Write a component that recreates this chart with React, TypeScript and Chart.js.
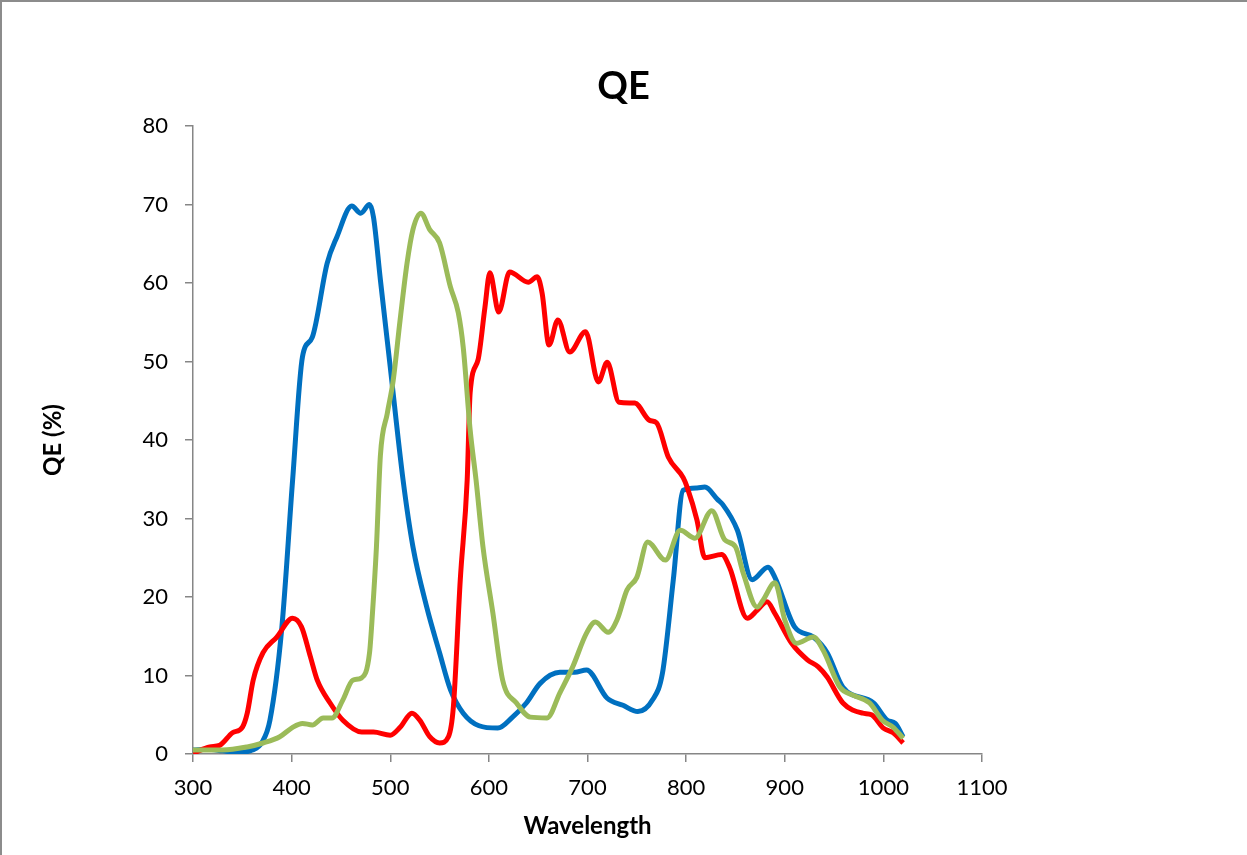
import React, { useEffect, useRef } from "react";
import { Chart, registerables } from "chart.js";

Chart.register(...registerables);

const blueX = [300, 315, 330, 345, 360, 370, 378, 390, 401, 411, 421, 436, 446, 461, 470, 479, 483, 490, 500, 513, 523, 537, 550, 561, 574, 590, 609, 624, 638, 652, 672, 687, 699, 720, 736, 751, 766, 776, 787, 797, 811, 819, 832, 837, 852, 867, 883, 890, 910, 929, 943, 959, 990, 1004, 1012, 1020];
const blueY = [0.5, 0.6, 0.4, 0.2, 0.5, 1.5, 4.3, 16, 34.9, 50.6, 53.1, 62.5, 65.9, 69.8, 68.9, 70, 68.4, 60.4, 49.3, 34.9, 26.4, 18.7, 12.9, 8.2, 5.2, 3.6, 3.3, 4.7, 6.5, 9.0, 10.4, 10.4, 10.7, 7.1, 6.2, 5.4, 6.9, 10.3, 22.2, 33.6, 33.9, 34.0, 32.4, 31.8, 28.5, 22.2, 23.8, 22.5, 16.2, 14.9, 12.9, 8.5, 6.5, 4.3, 3.9, 2.2];

const greenX = [300, 330, 355, 371, 388, 401, 411, 421, 432, 441, 452, 462, 471, 479, 482, 486, 490, 497, 503, 510, 517, 523, 531, 540, 550, 561, 569, 574, 581, 587, 594, 604, 614, 628, 642, 659, 672, 685, 699, 708, 721, 730, 740, 750, 761, 779, 794, 809, 826, 839, 850, 858, 872, 878, 890, 900, 912, 929, 939, 956, 969, 986, 999, 1010, 1020];
const greenY = [0.5, 0.5, 0.9, 1.4, 2.2, 3.4, 3.9, 3.7, 4.6, 4.6, 6.9, 9.4, 9.7, 12.9, 18, 26.4, 38, 43.4, 47.6, 55.3, 62.5, 66.8, 68.9, 66.8, 65.1, 59.5, 56.2, 51.8, 41.3, 34.9, 26.4, 18, 9.4, 6.5, 4.7, 4.6, 7.8, 11.1, 15.4, 16.8, 15.5, 17.1, 20.9, 22.5, 27, 24.7, 28.5, 27.5, 31, 27.3, 26.4, 23, 18.7, 19.6, 21.8, 17.1, 14.1, 14.9, 13.2, 8.5, 7.5, 6.5, 4.3, 3.4, 2];

const redX = [300, 317, 327, 340, 350, 355, 361, 371, 385, 401, 410, 419, 426, 439, 452, 471, 483, 500, 510, 522, 530, 540, 550, 559, 564, 571, 578, 581, 589, 596, 601, 610, 621, 640, 649, 654, 661, 670, 682, 698, 711, 720, 732, 748, 763, 770, 782, 797, 801, 811, 819, 836, 844, 862, 872, 882, 890, 907, 923, 934, 943, 959, 979, 988, 1000, 1010, 1020];
const redY = [0.1, 0.9, 1.1, 2.7, 3.4, 5.2, 9.4, 12.9, 14.9, 17.3, 16.2, 12.4, 9.4, 6.5, 4.3, 2.8, 2.8, 2.4, 3.4, 5.2, 4.3, 2.2, 1.4, 2.2, 6, 22.2, 34.9, 46, 50.2, 56.9, 61.3, 56.3, 61.4, 60.1, 60.8, 58.7, 52.1, 55.3, 51.2, 53.8, 47.4, 49.9, 44.8, 44.7, 42.5, 42.2, 37.8, 35.2, 34, 29.8, 25, 25.4, 23.8, 17.3, 18.3, 19.4, 17.9, 14.1, 12, 11.1, 9.8, 6.5, 5.2, 5.0, 3.3, 2.7, 1.4];

const FONT = "Lato, 'Liberation Sans', sans-serif";
const AXIS = "#868686";

function pts(xs: number[], ys: number[]) {
  return xs.map((x, i) => ({ x, y: ys[i] }));
}

export default function App() {
  const ref = useRef<HTMLCanvasElement | null>(null);
  useEffect(() => {
    if (!ref.current) return;
    const mk = (label: string, xs: number[], ys: number[], color: string) => ({
      label,
      data: pts(xs, ys),
      borderColor: color,
      backgroundColor: color,
      borderWidth: 5,
      pointRadius: 0,
      cubicInterpolationMode: "monotone" as const,
      fill: false,
      yAxisID: "y",
    });
    const chart = new Chart(ref.current, {
      type: "line",
      data: {
        datasets: [
          mk("Green", greenX, greenY, "#9BBB59"),
          mk("Red", redX, redY, "#FF0000"),
          mk("Blue", blueX, blueY, "#0070C0"),
        ],
      },
      options: {
        animation: false,
        responsive: false,
        maintainAspectRatio: false,
        layout: { padding: 0 },
        plugins: {
          legend: { display: false },
          tooltip: { enabled: false },
          title: {
            display: true,
            text: "QE",
            color: "#000",
            font: { family: FONT, size: 38, weight: "bold", lineHeight: 1.2 },
            padding: { top: 64, bottom: 16.4 },
          },
        },
        scales: {
          x: {
            type: "linear",
            min: 300,
            max: 1100,
            afterFit: (s: any) => {
              s.height = 101;
            },
            ticks: {
              stepSize: 100,
              color: "#000",
              font: { family: FONT, size: 22 },
              padding: 13,
              maxRotation: 0,
              callback: (v: any) => String(v),
            },
            grid: {
              display: true,
              drawOnChartArea: false,
              drawTicks: true,
              tickLength: 8,
              color: AXIS,
              lineWidth: 1.5,
            },
            border: { display: true, color: AXIS, width: 1.5 },
            title: {
              display: true,
              text: "Wavelength",
              color: "#000",
              font: { family: FONT, size: 24, weight: "bold", lineHeight: 1.2 },
              padding: { top: 0, bottom: 14.6 },
            },
          },
          y: {
            type: "linear",
            position: "left",
            min: 0,
            max: 80,
            afterFit: (s: any) => {
              s.width = 193;
            },
            ticks: {
              stepSize: 10,
              color: "#000",
              font: { family: FONT, size: 22 },
              padding: 17,
            },
            grid: {
              display: true,
              drawOnChartArea: false,
              drawTicks: true,
              tickLength: 8,
              color: AXIS,
              lineWidth: 1.5,
            },
            border: { display: true, color: AXIS, width: 1.5 },
            title: {
              display: true,
              text: "QE (%)",
              color: "#000",
              font: { family: FONT, size: 24, weight: "bold", lineHeight: 1.2 },
              padding: { top: 38.6, bottom: 0 },
            },
          },
          spacer: {
            type: "linear",
            position: "right",
            display: true,
            afterFit: (s: any) => {
              s.width = 265;
            },
            ticks: { display: false },
            grid: { display: false, drawTicks: false },
            border: { display: false },
            title: { display: false },
          },
        },
      },
    });
    return () => chart.destroy();
  }, []);

  return (
    <div style={{ position: "fixed", left: 0, top: 0, width: 1247, height: 855, background: "#fff", overflow: "hidden" }}>
      <div
        style={{
          position: "absolute",
          left: 0,
          top: 0,
          width: 1247,
          height: 855,
          boxSizing: "border-box",
          borderTop: "2px solid #8c8c8c",
          borderLeft: "2px solid #8c8c8c",
        }}
      />
      <canvas ref={ref} width={1247} height={855} style={{ position: "absolute", left: 0, top: 0, width: 1247, height: 855 }} />
    </div>
  );
}
